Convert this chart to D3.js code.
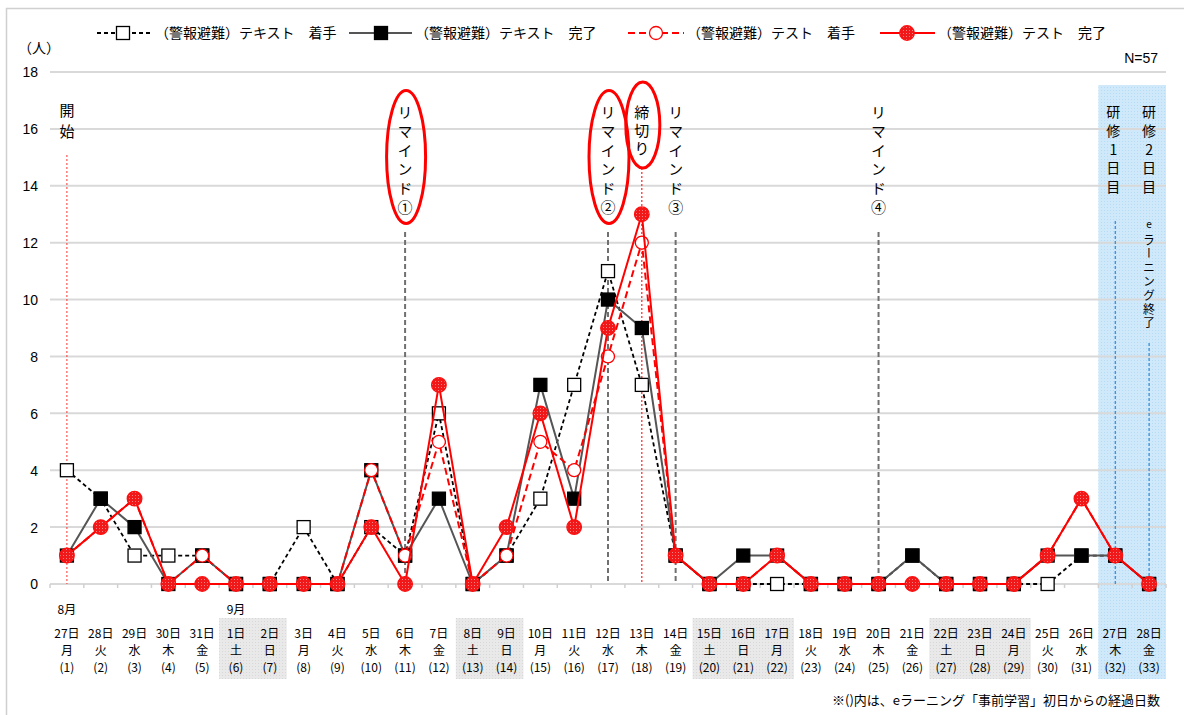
<!DOCTYPE html>
<html>
<head>
<meta charset="utf-8">
<script src="https://cdn.jsdelivr.net/npm/d3@7/dist/d3.min.js"></script>
<style>
  html, body { margin: 0; padding: 0; background: #fff; }
  svg { display: block; }
  text { font-family: "Noto Sans CJK JP", "Noto Sans", sans-serif; fill: #000; }
  .num { font-family: "Liberation Sans", Arial, sans-serif; }
</style>
</head>
<body>
<svg id="chart" width="1184" height="715"></svg>
<script>
// ---- data ----
const days = ["27日","28日","29日","30日","31日","1日","2日","3日","4日","5日","6日","7日","8日","9日","10日","11日","12日","13日","14日","15日","16日","17日","18日","19日","20日","21日","22日","23日","24日","25日","26日","27日","28日"];
const weekdays = ["月","火","水","木","金","土","日","月","火","水","木","金","土","日","月","火","水","木","金","土","日","月","火","水","木","金","土","日","月","火","水","木","金"];
const elapsed = ["(1)","(2)","(3)","(4)","(5)","(6)","(7)","(8)","(9)","(10)","(11)","(12)","(13)","(14)","(15)","(16)","(17)","(18)","(19)","(20)","(21)","(22)","(23)","(24)","(25)","(26)","(27)","(28)","(29)","(30)","(31)","(32)","(33)"];
const months = [{idx: 0, label: "8月"}, {idx: 5, label: "9月"}];
const weekendRuns = [[5, 6], [12, 13], [19, 21], [26, 28]];
const trainingRun = [31, 32];

const textStart = [4,3,1,1,1,0,0,2,0,2,1,6,0,1,3,7,11,7,1,0,0,0,0,0,0,1,0,0,0,0,1,1,0];
const textDone  = [1,3,2,0,1,0,0,0,0,4,1,3,0,1,7,3,10,9,1,0,1,1,0,0,0,1,0,0,0,1,1,1,0];
const testStart = [1,2,3,0,1,0,0,0,0,4,1,5,0,1,5,4,8,12,1,0,0,1,0,0,0,0,0,0,0,1,3,1,0];
const testDone  = [1,2,3,0,0,0,0,0,0,2,0,7,0,2,6,2,9,13,1,0,0,1,0,0,0,0,0,0,0,1,3,1,0];

const seriesNames = ["（警報避難）テキスト　着手", "（警報避難）テキスト　完了", "（警報避難）テスト　着手", "（警報避難）テスト　完了"];
const yTicks = [0,2,4,6,8,10,12,14,16,18];

// event labels: [day index, label, top y, font size, extra spacing, orientation]
const eventLabels = [
  [0,  "開始",       102.5, 15, 6,   "upright"],
  [10, "リマインド①", 104.5, 15, 4,   "upright"],
  [16, "リマインド②", 104.5, 15, 4,   "upright"],
  [17, "締切り",      104.5, 15, 3,   "upright"],
  [18, "リマインド③", 104.5, 15, 4,   "upright"],
  [24, "リマインド④", 104.5, 15, 4,   "upright"],
];
const trainingLabels = [
  [31, "研修1日目", 105, 14, 4.7, "upright", -2],
  [32, "研修2日目", 105, 14, 4.7, "upright", 0],
];

// ---- layout ----
const svg = d3.select("#chart");
const x = d3.scaleBand().domain(d3.range(days.length)).range([50, 1166]).padding(0);
const cx = i => x(i) + x.bandwidth() / 2;
const y = d3.scaleLinear().domain([0, 18]).range([584, 72]);

// patterns
const defs = svg.append("defs");
const pRed = defs.append("pattern").attr("id", "redDots").attr("width", 3).attr("height", 3).attr("patternUnits", "userSpaceOnUse");
pRed.append("rect").attr("width", 3).attr("height", 3).attr("fill", "#f01818");
pRed.append("rect").attr("width", 1).attr("height", 1).attr("fill", "#ff8080");
const pBlue = defs.append("pattern").attr("id", "blueHatch").attr("width", 3).attr("height", 3).attr("patternUnits", "userSpaceOnUse");
pBlue.append("rect").attr("width", 3).attr("height", 3).attr("fill", "#cfe9fb");
pBlue.append("rect").attr("width", 1).attr("height", 1).attr("fill", "#b4dcf7");
const pGray = defs.append("pattern").attr("id", "grayHatch").attr("width", 3).attr("height", 3).attr("patternUnits", "userSpaceOnUse");
pGray.append("rect").attr("width", 3).attr("height", 3).attr("fill", "#e9e9e9");
pGray.append("rect").attr("width", 1).attr("height", 1).attr("fill", "#d8d8d8");

// outer frame
svg.append("rect").attr("x", 6.5).attr("y", 8.5).attr("width", 1200).attr("height", 720)
  .attr("fill", "none").attr("stroke", "#d0d0d0").attr("stroke-width", 1.5);

// weekend shading under the date labels
weekendRuns.forEach(([a, b]) => {
  svg.append("rect").attr("x", x(a)).attr("y", 618).attr("width", x(b) + x.bandwidth() - x(a)).attr("height", 61)
    .attr("fill", "url(#grayHatch)");
});
// training days band
svg.append("rect").attr("x", x(trainingRun[0])).attr("y", 85)
  .attr("width", x(trainingRun[1]) + x.bandwidth() - x(trainingRun[0])).attr("height", 594)
  .attr("fill", "url(#blueHatch)");

// gridlines
svg.append("g").selectAll("line").data(yTicks.filter(d => d > 0)).join("line")
  .attr("x1", 50).attr("x2", 1166).attr("y1", d => y(d)).attr("y2", d => y(d))
  .attr("stroke", "#d9d9d9").attr("stroke-width", 2);

// y axis labels
const yAxis = d3.axisLeft(y).tickValues(yTicks).tickSize(0).tickPadding(0);
const gy = svg.append("g").attr("transform", "translate(38,0)").call(yAxis);
gy.select(".domain").remove();
gy.selectAll("text").attr("class", "num").attr("font-size", 14).attr("dy", "0.35em").style("font-family", "'Liberation Sans', Arial, sans-serif");

// x axis line with boundary ticks
const gx = svg.append("g").attr("transform", `translate(0,${y(0)})`);
gx.append("line").attr("x1", 50).attr("x2", 1166).attr("stroke", "#d9d9d9").attr("stroke-width", 2);
gx.selectAll("line.tk").data(d3.range(days.length + 1)).join("line").attr("class", "tk")
  .attr("x1", i => 50 + i * x.bandwidth()).attr("x2", i => 50 + i * x.bandwidth())
  .attr("y1", 0).attr("y2", 4).attr("stroke", "#d0d0d0").attr("stroke-width", 1.5);

// x labels
const xl = svg.append("g").attr("font-size", 12).attr("text-anchor", "middle");
xl.selectAll("text.m").data(months).join("text").attr("class", "m")
  .attr("x", d => cx(d.idx)).attr("y", 614).text(d => d.label);
xl.selectAll("text.d").data(days).join("text").attr("class", "d")
  .attr("x", (d, i) => cx(i)).attr("y", 638).text(d => d);
xl.selectAll("text.w").data(weekdays).join("text").attr("class", "w")
  .attr("x", (d, i) => cx(i)).attr("y", 655).text(d => d);
xl.selectAll("text.e").data(elapsed).join("text").attr("class", "e")
  .attr("x", (d, i) => cx(i)).attr("y", 672).text(d => d);

// event markers: vertical guide lines
function vline(i, y1, color, dash, w) {
  svg.append("line").attr("x1", cx(i)).attr("x2", cx(i)).attr("y1", y1).attr("y2", y(0))
    .attr("stroke", color).attr("stroke-width", w).attr("stroke-dasharray", dash);
}
vline(0, 155, "#ff3030", "2,2", 1);
vline(10, 232, "#707070", "5,3", 2);
vline(16, 232, "#707070", "5,3", 2);
vline(17, 168, "#ff2020", "2,2", 1.2);
vline(18, 232, "#707070", "5,3", 2);
vline(24, 232, "#707070", "5,3", 2);
vline(31, 221, "#2a86d6", "3,2", 1.2);
vline(32, 343, "#2a86d6", "3,2", 1.2);

// vertical labels, each written as one vertical run
function vlabel(xc, top, str, size, spacing, orient) {
  svg.append("text").attr("x", xc).attr("y", top)
    .style("writing-mode", "vertical-rl").style("text-orientation", orient)
    .attr("font-size", size).attr("letter-spacing", spacing).text(str);
}
eventLabels.forEach(([i, s, top, size, sp, o]) => vlabel(cx(i), top, s, size, sp, o));
trainingLabels.forEach(([i, s, top, size, sp, o, dx]) => vlabel(cx(i) + dx, top, s, size, sp, o));
svg.append("text").attr("x", cx(32)).attr("y", 224).attr("dy", "0.35em").attr("text-anchor", "middle")
  .attr("font-size", 10).text("e");
vlabel(cx(32), 234, "ラーニング終了", 12, 1.8, "mixed");

// highlight ellipses
[[10, 157, 19.5, 66.5], [16, 157, 20, 66.5], [17, 125, 17, 43]].forEach(([i, cy, rx, ry]) => {
  svg.append("ellipse").attr("cx", cx(i) + 1).attr("cy", cy).attr("rx", rx).attr("ry", ry)
    .attr("fill", "none").attr("stroke", "#ff0000").attr("stroke-width", 3);
});

// ---- series ----
const seriesDefs = [
  {data: textStart, stroke: "#000", width: 1.8, dash: "4,3", marker: "square", fill: "#fff", mstroke: "#000"},
  {data: textDone,  stroke: "#555", width: 2, dash: null, marker: "square", fill: "#000", mstroke: "#000"},
  {data: testStart, stroke: "#ff0000", width: 2, dash: "7,4", marker: "circle", fill: "#fff", mstroke: "#ff0000"},
  {data: testDone,  stroke: "#ff0000", width: 2, dash: null, marker: "circle", fill: "url(#redDots)", mstroke: "#ff1010"},
];
const line = d3.line().x((d, i) => cx(i)).y(d => y(d));

function drawMarker(g, s, px, py) {
  if (s.marker === "square") {
    const sz = 13;
    g.append("rect").attr("x", px - sz / 2).attr("y", py - sz / 2).attr("width", sz).attr("height", sz)
      .attr("fill", s.fill).attr("stroke", s.mstroke).attr("stroke-width", 1.3);
  } else {
    const r = s.fill === "#fff" ? 6.5 : 7.3;
    g.append("circle").attr("cx", px).attr("cy", py).attr("r", r)
      .attr("fill", s.fill).attr("stroke", s.mstroke).attr("stroke-width", 1.3);
  }
}

seriesDefs.forEach(s => {
  const g = svg.append("g");
  g.append("path").datum(s.data).attr("d", line).attr("fill", "none")
    .attr("stroke", s.stroke).attr("stroke-width", s.width)
    .attr("stroke-dasharray", s.dash).attr("stroke-linejoin", "round");
  s.data.forEach((v, i) => drawMarker(g, s, cx(i), y(v)));
});

// ---- legend ----
const legendItems = [
  {x1: 97, x2: 152, mx: 123, tx: 155},
  {x1: 349, x2: 412, mx: 381, tx: 415},
  {x1: 628, x2: 684, mx: 656, tx: 687},
  {x1: 880, x2: 935, mx: 907, tx: 938},
];
const lg = svg.append("g");
legendItems.forEach((p, k) => {
  const s = seriesDefs[k];
  lg.append("line").attr("x1", p.x1).attr("x2", p.x2).attr("y1", 33).attr("y2", 33)
    .attr("stroke", s.stroke).attr("stroke-width", s.width).attr("stroke-dasharray", s.dash);
  drawMarker(lg, s, p.mx, 33);
  lg.append("text").attr("x", p.tx).attr("y", 33).attr("dy", "0.35em").attr("font-size", 14).text(seriesNames[k]);
});

// unit, sample size, footnote
svg.append("text").attr("x", 18).attr("y", 48).attr("dy", "0.35em").attr("font-size", 14).text("（人）");
svg.append("text").attr("x", 1158).attr("y", 58).attr("dy", "0.35em").attr("font-size", 14)
  .attr("text-anchor", "end").style("font-family", "'Liberation Sans', Arial, sans-serif").text("N=57");
svg.append("text").attr("x", 1160).attr("y", 700).attr("dy", "0.35em").attr("font-size", 13)
  .attr("text-anchor", "end").text("※()内は、eラーニング「事前学習」初日からの経過日数");
</script>
</body>
</html>
